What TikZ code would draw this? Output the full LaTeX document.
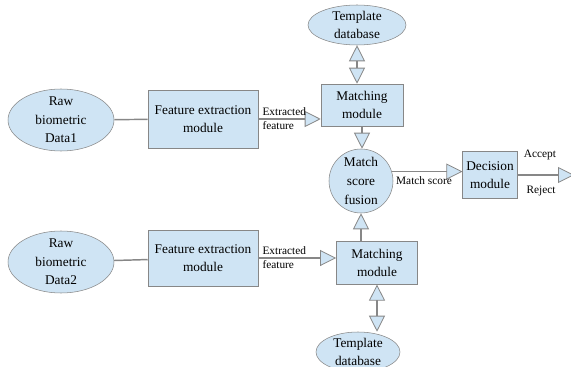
\documentclass[tikz,border=0pt]{standalone}
\usepackage{fontspec}
\setmainfont{Liberation Serif}
\usepackage{xcolor}
\usetikzlibrary{shapes.geometric,arrows.meta}

\definecolor{lblue}{RGB}{207,228,244}
\definecolor{edgegray}{RGB}{135,135,135}

\begin{document}
\begin{tikzpicture}[x=0.75pt,y=0.75pt,yscale=-1,xscale=1,
  every node/.style={font=\fontsize{10}{14}\selectfont, align=center},
  box/.style={draw=edgegray, fill=lblue, rectangle, inner sep=0pt},
  oval/.style={draw=edgegray, fill=lblue, ellipse, inner sep=0pt},
  lbl/.style={font=\fontsize{8.5}{10}\selectfont, inner sep=2pt},
  link/.style={draw=edgegray, line width=1.1pt},
  arr/.style={link, -{Triangle[length=12pt,width=12pt,fill=lblue,line width=0.6pt]}},
  dblarr/.style={link, {Triangle[length=12pt,width=12pt,fill=lblue,line width=0.6pt]}-{Triangle[length=12pt,width=12pt,fill=lblue,line width=0.6pt]}}]
\useasboundingbox (0,0) rectangle (571,367);

%Shape: Ellipse (raw data)
\node [oval, minimum width=79.5pt, minimum height=46.5pt, inner ysep=-3pt] (raw1) at (61,120) {Raw\\biometric\\Data1};
\node [oval, minimum width=79.5pt, minimum height=46.5pt, inner ysep=-3pt] (raw2) at (61,262) {Raw\\biometric\\Data2};
%Shape: Rectangle (feature extraction)
\node [box, minimum width=82.5pt, minimum height=43.5pt] (fe1) at (203,119) {Feature extraction\\module};
\node [box, minimum width=82.5pt, minimum height=42pt] (fe2) at (203,258) {Feature extraction\\module};
%Shape: Rectangle (matching)
\node [box, minimum width=61.5pt, minimum height=31.5pt] (m1) at (362,105) {Matching\\module};
\node [box, minimum width=61pt, minimum height=32pt] (m2) at (377,263) {Matching\\module};
%Shape: Ellipse (template database)
\node [oval, minimum width=73.5pt, minimum height=30pt] (db1) at (357,25) {Template\\database};
\node [oval, minimum width=63pt, minimum height=30pt] (db2) at (358,352) {Template\\database};
%Shape: Circle (fusion)
\node [draw=edgegray, fill=lblue, circle, inner sep=0pt, minimum size=48pt] (fus) at (361,181) {Match\\score\\fusion};
%Shape: Rectangle (decision)
\node [box, minimum width=41pt, minimum height=35pt] (dec) at (490,175) {Decision\\module};
\coordinate (out) at (574,175);

%Straight Lines
\draw [link] (raw1) -- (fe1);
\draw [link] (raw2) -- (fe2);
\draw [arr] (fe1.east) -- (fe1.east -| m1.west);
\draw [arr] (fe2.east) -- (fe2.east -| m2.west);
\draw [dblarr] (db1.south) -- (db1.south |- m1.north);
\draw [dblarr] (m2.south) -- (m2.south |- db2.north);
\draw [arr] (m1.south) -- (m1.south |- fus.north);
\draw [arr] (m2.north -| fus.south) -- (fus.south);
\draw [arr] (fus.17) -- (fus.17 -| dec.west);
\draw [arr] (dec.east) -- (out);

% Text Node
\node [lbl, anchor=south west] (ef1a) at ([xshift=1pt]fe1.east) {Extracted};
\node [lbl, anchor=north west] (ef1b) at ([xshift=1pt]fe1.east) {feature};
\node [lbl, anchor=south west] (ef2a) at ([xshift=1pt]fe2.east) {Extracted};
\node [lbl, anchor=north west] (ef2b) at ([xshift=1pt]fe2.east) {feature};
\node [lbl] (ms) at (424,181) {Match score};
\node [lbl] (acc) at (540,155) {Accept};
\node [lbl] (rej) at (541,191) {Reject};

\end{tikzpicture}
\end{document}
